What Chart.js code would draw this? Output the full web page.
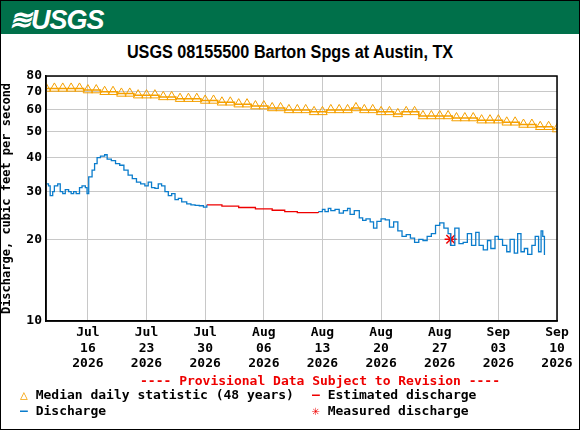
<!DOCTYPE html>
<html><head><meta charset="utf-8">
<script src="https://cdn.jsdelivr.net/npm/chart.js@4"></script>
<style>
  body { margin:0; width:580px; height:430px; position:relative; background:#fff; overflow:hidden; }
  #frame { position:absolute; left:0; top:0; width:578px; height:428px; border:1px solid #000; }
  #head { position:absolute; left:1px; top:1px; width:578px; height:33px; background:#00704a; }
  #logo { position:absolute; left:8px; top:3px; color:#fff; font:italic bold 27px "Liberation Sans", Arial, sans-serif; letter-spacing:-1px; }
  #title { position:absolute; left:0; width:580px; top:42px; text-align:center; font:bold 18px "Liberation Sans", Arial, sans-serif; transform:scaleX(0.9); }
  canvas { position:absolute; left:0; top:0; }
  .leg { position:absolute; font:bold 13px "DejaVu Sans Mono", monospace; color:#000; }
</style></head>
<body>
<div id="frame"></div>
<div id="head"><span id="logo">≋USGS</span></div>
<div id="title">USGS 08155500 Barton Spgs at Austin, TX</div>
<canvas id="c" width="580" height="430"></canvas>
<div class="leg" style="left:140px;top:373px;color:#e00">---- Provisional Data Subject to Revision ----</div>
<div class="leg" style="left:20px;top:387px"><span style="color:#f5a000">△</span> Median daily statistic (48 years)</div>
<div class="leg" style="left:312px;top:387px"><span style="color:#e00">—</span> Estimated discharge</div>
<div class="leg" style="left:20px;top:403px"><span style="color:#0a7ccc">—</span> Discharge</div>
<div class="leg" style="left:312px;top:403px"><span style="color:#e00">✳</span> Measured discharge</div>
<script>
// x values are days since Jul 11
const tickDays = [5, 12, 19, 26, 33, 40, 47, 54, 61];
const tickLabels = [['Jul','16','2026'],['Jul','23','2026'],['Jul','30','2026'],['Aug','06','2026'],['Aug','13','2026'],['Aug','20','2026'],['Aug','27','2026'],['Sep','03','2026'],['Sep','10','2026']];
const yTicks = [10, 20, 30, 40, 50, 60, 70, 80];

const median = [72,72,72,72,72, 71,71,70,70,69, 69,68,68,68,67, 67,66,66,66,65,
  65,64,64,63,63, 62,62,61,61,60, 60,60,59,59,60, 60,60,61,60,60,
  59,59,58,59,59, 57,57,57,57,56, 56,56,55,55,55, 54,54,53,53,52, 52,51];

const qDays = [0,0.3,0.5,0.8,1,1.4,1.7,2,2.3,2.7,3,3.3,3.6,4,4.3,4.7,4.9,5.1,5.5,5.8,6.1,6.5,7,7.3,7.8,8.3,8.8,9.3,9.8,10.3,10.8,11.3,11.8,12.2,12.6,13,13.4,13.8,14.2,14.6,15,15.4,15.8,16.2,16.8,17.3,17.8,18.3,18.8,19.2];
const qVals = [32,31.5,29,30,31.5,32,30,29.5,30.5,30,29.5,30,29.5,31,31.5,31,29.5,34,36,38,40,40.5,41,39.5,39,38,37.5,36,34.5,33.5,32.5,32,31.5,32.5,31,30.8,32,31.5,30,29,29.5,28,28.3,27.5,27,26.8,26.7,26.6,26.3,26.8];
const estDays = [19.2,21,23,25,27,28.5,30,32.5];
const estVals = [26.8,26.5,26.2,25.9,25.6,25.3,25.1,25.0];
const q2Days = [32.5,33,33.3,33.7,34,34.5,35,35.5,36,36.3,36.8,37.4,37.8,38.2,38.7,39.1,39.5,40,40.5,41,41.5,42,42.5,43,43.5,44,44.5,45,45.5,46,46.5,47,47.5,48,48.3,48.8,49.3,49.8,50.3,50.8,51.3,51.7,52.2,52.7,53.1,53.6,54,54.5,55,55.4,55.9,56.3,56.7,57.1,57.5,58,58.4,58.8,59.1,59.3,59.5];
const q2Vals = [25.3,25.8,25.3,26,25.5,25.8,25,25.5,26,24.7,25.5,24,23.5,23.8,23.2,22,23.3,23.8,23.6,22.2,23.2,21.5,20.5,20.8,20.2,19.5,20,19.8,20.5,21,22.5,23,22,21,19,22,19.3,19.5,21,19,21.2,19,18.3,19.8,18.5,20.5,20,19,18,20,17.8,21,18,18.5,17.6,19,20.5,18,21.5,20.5,17.5];
const measured = [{x:48.3, y:20}];

const pts = (xs, ys) => xs.map((x, i) => ({x, y: ys[i]}));
const mono = { family: '"DejaVu Sans Mono", monospace', weight: 'bold', size: 13 };

new Chart(document.getElementById('c'), {
  type: 'line',
  data: { datasets: [
    { data: median.map((v, i) => ({x: i, y: v})), borderColor: '#f5a000', borderWidth: 1.5, stepped: 'middle',
      pointStyle: 'triangle', pointRadius: 5.5, pointBackgroundColor: 'rgba(0,0,0,0)', pointBorderColor: '#f5a000', pointBorderWidth: 1 },
    { data: pts(qDays, qVals), borderColor: '#0a7ccc', borderWidth: 1.3, stepped: true, pointRadius: 0 },
    { data: pts(estDays, estVals), borderColor: '#e00', borderWidth: 1.3, stepped: true, pointRadius: 0 },
    { data: pts(q2Days, q2Vals), borderColor: '#0a7ccc', borderWidth: 1.3, stepped: true, pointRadius: 0 },
    { data: measured, showLine: false, pointStyle: 'star', pointRadius: 6, borderColor: '#e00', pointBorderWidth: 1.5 }
  ]},
  options: {
    animation: false, responsive: false,
    layout: { padding: { left: 0, right: 23, top: 76, bottom: 52 } },
    plugins: { legend: { display: false }, tooltip: { enabled: false } },
    scales: {
      x: { type: 'linear', min: 0, max: 61,
        afterBuildTicks: s => { s.ticks = tickDays.map(v => ({value: v})); },
        afterFit: s => { s.height = 57; },
        grid: { color: '#c8c8c8', drawTicks: false },
        border: { color: '#000', width: 1.5 },
        ticks: { color: '#000', font: mono, padding: 4, maxRotation: 0, autoSkip: false,
          callback: v => tickLabels[tickDays.indexOf(v)] }
      },
      y: { type: 'logarithmic', min: 10, max: 80,
        afterBuildTicks: s => { s.ticks = yTicks.map(v => ({value: v})); },
        afterFit: s => { s.width = 46; },
        grid: { color: '#c8c8c8', drawTicks: false },
        border: { color: '#000', width: 1.5 },
        ticks: { color: '#000', font: mono, padding: 4, autoSkip: false, callback: v => String(v) },
        title: { display: true, text: 'Discharge, cubic feet per second', color: '#000', font: { ...mono, size: 12 }, padding: 0 }
      }
    }
  },
  plugins: [{ id: 'box', afterDraw: ch => { const a = ch.chartArea, c = ch.ctx;
    c.save(); c.strokeStyle = '#000'; c.lineWidth = 1.5; c.strokeRect(a.left, a.top, a.right - a.left, a.bottom - a.top); c.restore(); } }]
});
</script>
</body></html>
